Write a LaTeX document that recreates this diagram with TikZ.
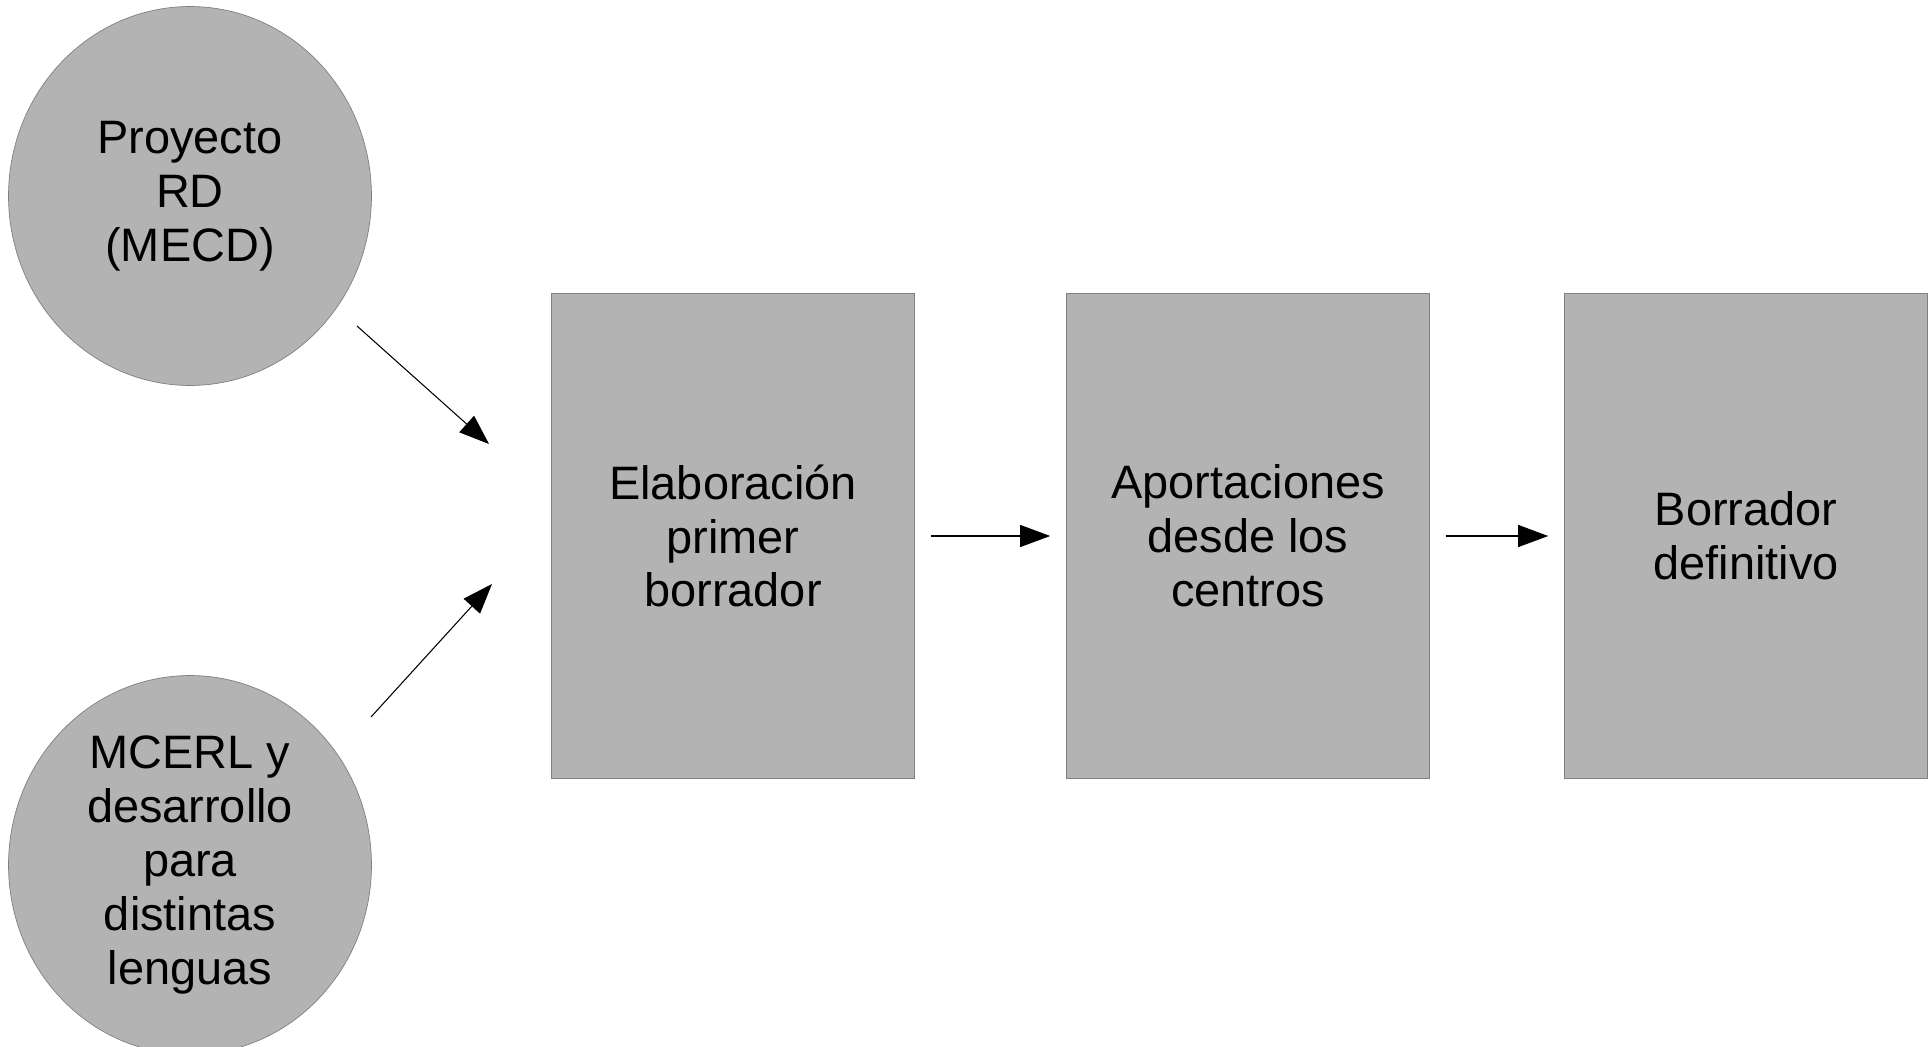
\documentclass[tikz,border=0pt]{standalone}
\usepackage{fontspec}
\setmainfont{Liberation Sans}
\usetikzlibrary{shapes.geometric,arrows.meta}
\definecolor{boxgray}{RGB}{179,179,179}
\definecolor{edgegray}{RGB}{128,128,128}
\tikzset{
  source/.style={ellipse,fill=boxgray,draw=edgegray,line width=0.4pt,
    minimum width=7.26cm,minimum height=7.58cm,align=center,inner sep=0pt},
  stage/.style={rectangle,fill=boxgray,draw=edgegray,line width=0.4pt,
    minimum width=7.26cm,minimum height=9.7cm,align=center,inner sep=0pt},
  flow/.style={-{Triangle[length=0.6cm,width=0.44cm]},line width=0.6pt,
    shorten <=0.32cm,shorten >=0.32cm}
}
\begin{document}
\begin{tikzpicture}[x=0.02cm,y=-0.02cm,font=\fontsize{26.7}{30.7}\selectfont]
    \useasboundingbox (0,0) rectangle (1932,1047);
    \node[source] (proyecto) at (190,196) {Proyecto\\RD\\(MECD)};
    \node[source] (mcerl) at (190,865) {MCERL y\\desarrollo\\para\\distintas\\lenguas};
    \node[stage] (elaboracion) at (733,536) {Elaboración\\primer\\borrador};
    \node[stage] (aportaciones) at (1248,536) {Aportaciones\\desde los\\centros};
    \node[stage] (definitivo) at (1746,536) {Borrador\\definitivo};
    % entradas al primer borrador
    \coordinate (a1) at (357,326);
    \coordinate (b1) at (489,444);
    \coordinate (a2) at (371,717);
    \coordinate (b2) at (492,584);
    \draw[flow,shorten <=0pt,shorten >=0pt] (a1) -- (b1);
    \draw[flow,shorten <=0pt,shorten >=0pt] (a2) -- (b2);
    \draw[flow] (elaboracion) -- (aportaciones);
    \draw[flow] (aportaciones) -- (definitivo);
\end{tikzpicture}
\end{document}
